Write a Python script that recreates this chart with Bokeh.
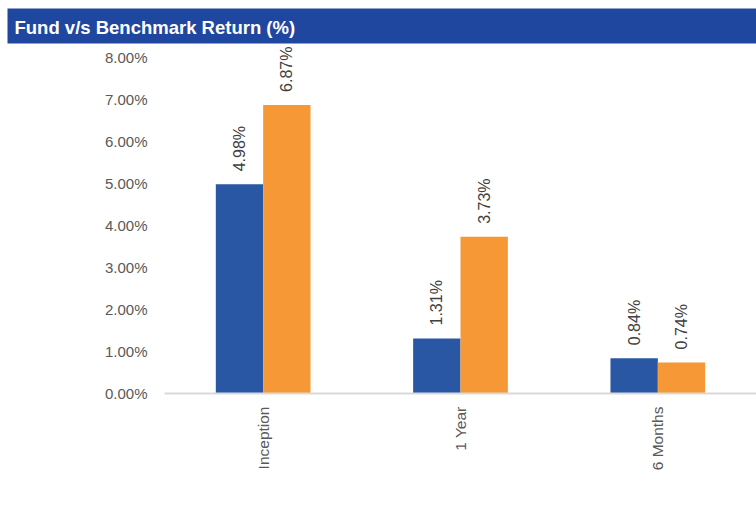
from math import pi
from bokeh.plotting import figure
from bokeh.core.properties import value
from bokeh.models import (ColumnDataSource, FactorRange, Range1d, FixedTicker,
                          PrintfTickFormatter, LabelSet, Legend, LegendItem)
from bokeh.transform import dodge
from bokeh.embed import file_html
from bokeh.resources import INLINE

# ---- data ----
categories = ["Inception", "1 Year", "6 Months"]
fund_values = [4.98, 1.31, 0.84]
bench_values = [6.87, 3.73, 0.74]
series_names = ["Long Term Bond Fund", "Nifty AAA Bond Plus G-Sec Mar 2035 3070 Index"]
y_ticks = [0, 1, 2, 3, 4, 5, 6, 7, 8]
title_text = "Fund v/s Benchmark Return (%)"

BLUE = "#2957A4"
ORANGE = "#F69836"
BAND = "#1F47A0"
FONT = "Liberation Sans"
FRAME_LEFT = 164
FRAME_H = 350

src = ColumnDataSource(dict(
    cat=categories,
    fund=fund_values,
    bench=bench_values,
    fund_lbl=[f"{v:.2f}%" for v in fund_values],
    bench_lbl=[f"{v:.2f}%" for v in bench_values],
))

p = figure(width=756, height=511, frame_width=756 - FRAME_LEFT, frame_height=FRAME_H,
           x_range=FactorRange(*categories), y_range=Range1d(0, FRAME_H / 42),
           toolbar_location=None, output_backend="svg",
           min_border_left=FRAME_LEFT, min_border_right=0, min_border_top=43,
           min_border_bottom=511 - 43 - FRAME_H, outline_line_color=None)

# title band
p.title.text = title_text
p.title.align = "left"
p.title.offset = 7 - FRAME_LEFT
p.title.vertical_align = "bottom"
p.title.standoff = 0
p.title.text_color = "white"
p.title.text_font_style = "bold"
p.title.text_font_size = "18.5px"
p.title.text_font = FONT
p.title.background_fill_color = BAND
p.title.padding = dict(left=7, right=700, top=8, bottom=6)

r1 = p.vbar(x=dodge("cat", -0.12, range=p.x_range), top="fund", width=0.24,
            source=src, fill_color=BLUE, line_color=None)
r2 = p.vbar(x=dodge("cat", 0.12, range=p.x_range), top="bench", width=0.24,
            source=src, fill_color=ORANGE, line_color=None)

for key, off in (("fund", -0.12), ("bench", 0.12)):
    p.add_layout(LabelSet(x=dodge("cat", off, range=p.x_range), y=key, text=key + "_lbl",
                          source=src, angle=pi / 2, text_align="left", text_baseline="middle",
                          y_offset=13, text_font_size="16px", text_font=value(FONT),
                          text_color="#404040"))

p.xgrid.visible = False
p.ygrid.visible = False

p.yaxis.ticker = FixedTicker(ticks=y_ticks)
p.yaxis.formatter = PrintfTickFormatter(format="%.2f%%")
p.yaxis.axis_line_color = None
p.yaxis.major_tick_line_color = None
p.yaxis.minor_tick_line_color = None
p.yaxis.major_label_standoff = 11
p.yaxis.major_label_text_font_size = "15px"
p.yaxis.major_label_text_font = FONT
p.yaxis.major_label_text_color = "#595959"

p.xaxis.axis_line_color = "#D9D9D9"
p.xaxis.axis_line_width = 2
p.xaxis.major_tick_line_color = None
p.xaxis.minor_tick_line_color = None
p.xaxis.major_tick_out = 0
p.xaxis.major_tick_in = 0
p.xaxis.minor_tick_out = 0
p.xaxis.minor_tick_in = 0
p.xaxis.major_label_orientation = pi / 2
p.xaxis.major_label_standoff = 13
p.xaxis.major_label_text_font_size = "15.5px"
p.xaxis.major_label_text_font = FONT
p.xaxis.major_label_text_color = "#595959"

legend = Legend(items=[LegendItem(label=series_names[0], renderers=[r1]),
                       LegendItem(label=series_names[1], renderers=[r2])],
                orientation="horizontal", location=(33 - FRAME_LEFT, 2),
                glyph_width=12, glyph_height=12, label_standoff=6, spacing=31,
                padding=0, margin=0, border_line_color=None, background_fill_alpha=0,
                label_text_font_size="18.5px", label_text_font=FONT,
                label_text_color="#222222")
p.add_layout(legend, "below")

open("out.html", "w").write(file_html(p, INLINE))
